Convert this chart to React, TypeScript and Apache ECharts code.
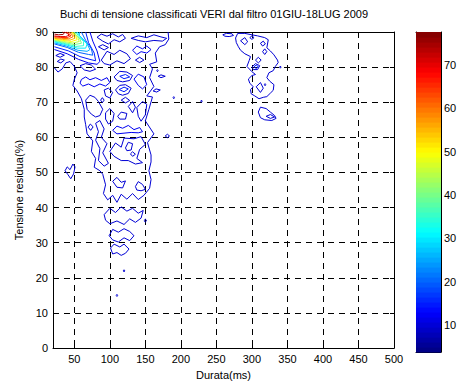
import React, { useEffect, useRef } from "react";
import * as echarts from "echarts";

const TITLE = "Buchi di tensione classificati VERI dal filtro 01GIU-18LUG 2009";
const X_NAME = "Durata(ms)";
const Y_NAME = "Tensione residua(%)";
const X_MIN = 20;
const X_MAX = 500;
const Y_MIN = 0;
const Y_MAX = 90;
const X_TICKS = [50, 100, 150, 200, 250, 300, 350, 400, 450, 500];
const CB_TICKS = [10, 20, 30, 40, 50, 60, 70];
const CB_MIN = 3.8;
const CB_MAX = 77.6;

// ---- contour lines: [durata ms, tensione %] ----
const peak75 = [[22, 89.4], [28, 89.2], [34, 89.3], [36, 89.7], [33, 90]];
const peak70 = [[22, 88.9], [30, 88.7], [38, 88.7], [43, 89.1], [40, 89.6], [36, 90]];
const peak65 = [[22, 88.7], [31, 88.45], [40, 88.4], [45, 88.85], [43, 89.5], [39, 90]];
const peak60 = [[22, 88.4], [32, 88.2], [42, 88.1], [48, 88.6], [46, 89.4], [42, 90]];
const peak55 = [[22, 88.2], [33, 87.9], [44, 87.7], [51, 88.2], [49, 89.1], [45, 90]];
const peak50 = [[22, 88], [34, 87.6], [46, 87.3], [54, 87.8], [52, 88.8], [47, 90]];
const peak45 = [[22, 87.8], [35, 87.3], [48, 86.85], [57, 87.3], [55, 88.4], [50, 89.6], [49, 90]];
const peak40 = [[22, 87.6], [36, 87], [50, 86.4], [60, 86.8], [58, 88], [52, 89.3], [50, 90]];
const peak35 = [[22, 87.4], [37, 86.7], [52, 85.9], [63, 86.1], [63, 87.3], [56, 88.8], [52, 90]];
const peak30 = [[22, 87.2], [38, 86.4], [54, 85.4], [66, 85.4], [68, 86.6], [60, 88.2], [54, 90]];
const peak25 = [[22, 86.9], [39, 86], [55, 84.8], [68, 84.5], [72, 85], [67, 87], [57, 89], [57, 90]];
const peak20 = [[22, 86.6], [40, 85.6], [56, 84.2], [70, 83.6], [76, 83.4], [74, 85.2], [66, 87.6], [60, 90]];
const peak15 = [[22, 85.8], [42, 84.6], [58, 83], [72, 82.2], [80, 81.8], [78, 84], [70, 87], [66, 90]];
const peak12 = [[22, 85], [40, 83.8], [56, 82.2], [70, 81.2], [82, 80.8], [86, 81.6], [82, 84.6], [76, 87.4], [72, 90]];

const mainBody = [
  [22, 79.8], [27, 78.6], [33, 79.5], [38, 81.2], [44, 81.6], [50, 80.2], [54, 78.4], [50, 76.5], [48, 74.8],
  [54, 73.2], [60, 71], [64, 68], [64, 65.8], [66, 63.6], [68, 61], [76, 59], [74, 56], [80, 54], [78, 51.5],
  [86, 50.5], [90, 49.5], [94, 46.5], [91, 44], [97, 42.2], [104, 43.5], [110, 41.5], [116, 43.8], [124, 42.4],
  [132, 44], [140, 42.3], [148, 43.5], [156, 45.5], [158, 48], [155, 50.5], [158, 53], [158, 55], [153, 58.5],
  [162, 61], [150, 64.7], [155, 68], [160, 71.5], [152, 71.8], [162, 74.5], [156, 77], [160, 79.5], [156, 80.8],
  [166, 81.5], [164, 84], [170, 85.8], [178, 86.4], [183, 88], [182, 90],
];
const band38 = [[92, 38], [100, 39.8], [108, 38.6], [116, 40.2], [124, 39], [132, 39.8], [140, 38.4], [147, 39.2], [144, 37], [136, 35.8], [128, 36.8], [120, 35.2], [110, 36.2], [100, 35.4], [94, 36.4], [92, 38]];
const band32 = [[99, 32], [104, 33.8], [112, 33], [120, 34], [128, 33.2], [134, 32], [128, 30.6], [120, 31.4], [112, 30.2], [104, 30.8], [99, 32]];
const band28 = [[101, 28.5], [106, 29.6], [114, 28.8], [120, 29.6], [127, 28.2], [122, 27], [116, 26.4], [110, 27.2], [104, 26.8], [101, 28.5]];
const leftBlob = [[37, 50.5], [40, 51.6], [44, 50.8], [48, 52.4], [51, 51.6], [49, 49.6], [45, 48.2], [41, 49.4], [37, 50.5]];
const isl1 = [[66, 70.6], [72, 72], [79, 71.4], [84, 70.2], [90, 68], [86, 66.2], [80, 65.8], [74, 66.6], [68, 68], [66, 70.6]];
const isl2 = [[69.5, 62.9], [72.5, 63.8], [76.5, 63], [73, 62], [69.5, 62.9]];
const isl3 = [[87, 70.6], [89.5, 71.3], [92, 70.6], [89.5, 69.9], [87, 70.6]];
const isl4 = [[108, 73.5], [114, 74.8], [122, 75], [130, 74], [126, 72.5], [118, 72], [112, 72.4], [108, 73.5]];
const isl4in = [[113, 73.6], [120, 74.3], [126, 73.8], [120, 73], [113, 73.6]];
const isl5 = [[106, 77.2], [114, 78.8], [124, 78.6], [132, 77.6], [128, 76.2], [118, 75.8], [110, 76.2], [106, 77.2]];
const isl5in = [[114, 77.4], [122, 77.9], [128, 77.2], [120, 76.7], [114, 77.4]];
const isl6 = [[111, 66], [116, 67.2], [124, 66.8], [122, 65.2], [114, 65.2], [111, 66]];
const isl7 = [[88, 82], [96, 84.5], [106, 83.6], [114, 84.8], [124, 83.8], [129, 82.4], [120, 81], [110, 81.8], [100, 80.6], [92, 81], [88, 82]];
const isl8 = [[122, 57], [126, 58.6], [132, 58.2], [130, 56.4], [124, 56.2], [122, 57]];
const isl9 = [[129, 55.3], [132, 55.9], [136, 55.2], [132, 54.6], [129, 55.3]];
const isl10 = [[100, 56], [108, 58.4], [116, 57.2], [120, 59.8], [134, 59.6], [144, 60.2], [150, 58], [142, 56.6], [138, 54], [146, 52.8], [136, 52.4], [126, 53.4], [116, 53.4], [106, 54.6], [100, 56]];
const isl11 = [[80, 64], [86, 64.8], [92, 62.4], [88, 60], [96, 58.2], [90, 55.6], [98, 52.6], [92, 51.8], [84, 53.4], [86, 56.8], [80, 59.2], [84, 61.6], [80, 64]];
const isl12 = [[138, 68.5], [146, 70.2], [152, 69.4], [150, 66.4], [144, 64.6], [140, 66], [138, 68.5]];
const topLoop = [[130, 88.2], [140, 88.9], [152, 88.4], [162, 89.2], [172, 88.6], [180, 88.2], [174, 87.4], [162, 87.6], [150, 87.2], [140, 87.6], [130, 88.2]];
const upLoop1 = [[82, 88.5], [88, 89.4], [96, 88.8], [104, 89.5], [112, 88.6], [118, 89.3], [122, 88.2], [114, 87.2], [106, 87.8], [98, 86.6], [90, 87.4], [82, 88.5]];
const upLoop2 = [[84, 85.8], [90, 86.4], [98, 85.6], [92, 84.9], [84, 85.8]];
const upLoop3 = [[132, 84.8], [138, 86], [146, 85.2], [152, 86], [158, 85], [152, 84], [144, 84.4], [138, 83.6], [132, 84.8]];
const upLoop4 = [[136, 82], [142, 82.8], [148, 82], [142, 81.3], [136, 82]];
const midLoop1 = [[60, 76.5], [66, 77.2], [72, 76.4], [80, 77], [88, 76.2], [96, 77], [100, 75.6], [94, 74.6], [86, 75.2], [78, 74.4], [70, 75.2], [62, 74.6], [58, 75.4], [60, 76.5]];
const midLoop2 = [[92, 73.5], [98, 74], [104, 72.8], [100, 71.2], [94, 71.8], [92, 73.5]];
const midLoop3 = [[134, 76.6], [140, 78], [148, 77.2], [152, 75], [146, 73.8], [140, 74.8], [134, 76.6]];
const midLoop4 = [[94, 67], [100, 68.2], [106, 66.8], [104, 64.6], [98, 63.8], [94, 65.2], [94, 67]];
const midLoop5 = [[126, 68.8], [132, 70.2], [136, 68.6], [132, 67], [126, 68.8]];
const midLoop6 = [[104, 62], [110, 63.2], [118, 62.6], [126, 63.4], [134, 62.2], [142, 62.8], [146, 61.6], [140, 61.3], [130, 61.4], [120, 61.2], [110, 61], [104, 62]];
const midLoop7 = [[116, 70.6], [122, 71.4], [128, 70.5], [122, 69.8], [116, 70.6]];
const lowLoop1 = [[104, 47.5], [110, 48.6], [116, 47.2], [122, 47.6], [118, 45.6], [110, 45.8], [104, 47.5]];
const lowLoop2 = [[136, 46], [140, 47.4], [146, 46.6], [150, 45.2], [144, 44.8], [138, 45], [136, 46]];
const peakLoopA = [[24, 83.3], [30, 83.9], [36, 83.4], [30, 82.8], [24, 83.3]];
const peakLoopB = [[26, 81.6], [31, 82.3], [36, 82], [31, 81.2], [26, 81.6]];
const peakLoopC = [[58, 80.4], [66, 81], [74, 80.6], [80, 79.4], [72, 78.8], [64, 79.2], [58, 80.4]];
const dot60 = [[178, 60.4], [181, 60.9], [184, 60.4], [181, 59.9], [178, 60.4]];
const dot71 = [[189, 71.3], [190, 71.6], [191, 71.3], [190, 71], [189, 71.3]];
const dot70 = [[228, 70.3], [229, 70.6], [230, 70.3], [229, 70], [228, 70.3]];
const dot79 = [[166, 79], [167, 79.3], [168, 79], [167, 78.7], [166, 79]];
const loop77 = [[168, 77.4], [172, 77.8], [178, 77.4], [172, 77], [168, 77.4]];
const loop73 = [[161, 73.2], [165, 73.8], [171, 73.5], [166, 72.9], [161, 73.2]];
const dot22 = [[119, 22], [120, 22.3], [121, 22], [120, 21.7], [119, 22]];
const dot15 = [[109, 15], [110, 15.3], [111, 15], [110, 14.7], [109, 15]];
const dot36 = [[148, 36.3], [150, 36.7], [152, 36.3], [150, 35.9], [148, 36.3]];

const right2Main = [
  [277, 88.3], [280, 89.6], [290, 89.6], [300, 89.2], [308, 88.9], [318, 88.4], [323, 87.8], [321, 85.5], [326, 84.6],
  [331, 83.5], [336, 82], [337, 81.3], [333, 80.2], [330, 79], [324, 78.4], [321, 77], [325, 76], [331, 75], [330, 73.4],
  [326, 72.6], [321, 71.6], [316, 71.4], [310, 71], [304, 71.8], [299, 72.4], [298, 73.6], [302, 74.4], [297, 75.4],
  [295, 76.6], [300, 77.6], [305, 77.9], [300, 78.7], [293, 80.2], [296, 81.8], [298, 83], [290, 83.8], [284, 84.8],
  [281, 85.8], [278, 87], [277, 88.3],
];
const right2A = [[315, 84.4], [318, 85.2], [321, 84.4], [318, 83.6], [315, 84.4]];
const right2B = [[305, 82], [309, 82.8], [313, 82], [309, 81.2], [305, 82]];
const right2C = [[300, 80], [305, 81], [311, 80.4], [308, 79.3], [302, 79.3], [300, 80]];
const right2Cin = [[303, 80.1], [306, 80.6], [309, 80.1], [306, 79.6], [303, 80.1]];
const right2Top = [[297, 88.4], [300, 88.9], [303, 88.4], [300, 87.9], [297, 88.4]];
const right2D = [[284, 87.5], [290, 88.4], [294, 87.2], [290, 86.4], [284, 87.5]];
const right2E = [[312, 86.8], [316, 87.4], [319, 86.6], [315, 86], [312, 86.8]];
const right2F = [[306, 74.4], [312, 75.6], [316, 74], [312, 72.8], [306, 74.4]];
const right2Dot = [[317.5, 75], [318.5, 75.3], [319.5, 75], [318.5, 74.7], [317.5, 75]];
const right2Low = [[309, 67.2], [312, 68.6], [320, 68.2], [326, 67.2], [332, 66.2], [334, 65.4], [328, 64.8], [318, 65], [312, 65.6], [309, 67.2]];
const right2LowIn = [[320, 66], [326, 66.5], [332, 65.8], [326, 65.4], [320, 66]];
const right2Small = [[259, 89.2], [264, 89.6], [272, 89.5], [274, 89], [268, 88.7], [262, 88.8], [259, 89.2]];
const right2Dot80 = [[339, 80], [340, 80.3], [341, 80], [340, 79.7], [339, 80]];

const CONTOURS: { level: number; pts: number[][] }[] = [
  { level: 10, pts: mainBody }, { level: 10, pts: band38 }, { level: 10, pts: band32 }, { level: 10, pts: band28 },
  { level: 10, pts: leftBlob }, { level: 10, pts: isl1 }, { level: 10, pts: isl2 }, { level: 10, pts: isl3 },
  { level: 10, pts: isl4 }, { level: 15, pts: isl4in }, { level: 10, pts: isl5 }, { level: 15, pts: isl5in },
  { level: 10, pts: isl6 }, { level: 10, pts: isl7 }, { level: 10, pts: isl8 }, { level: 10, pts: isl9 },
  { level: 10, pts: isl10 }, { level: 10, pts: isl11 }, { level: 10, pts: isl12 }, { level: 10, pts: topLoop },
  { level: 10, pts: upLoop1 }, { level: 10, pts: upLoop2 }, { level: 12, pts: upLoop3 }, { level: 10, pts: upLoop4 },
  { level: 12, pts: midLoop1 }, { level: 10, pts: midLoop2 }, { level: 12, pts: midLoop3 }, { level: 10, pts: midLoop4 },
  { level: 10, pts: midLoop5 }, { level: 12, pts: midLoop6 }, { level: 10, pts: midLoop7 },
  { level: 10, pts: lowLoop1 }, { level: 10, pts: lowLoop2 },
  { level: 10, pts: peakLoopA }, { level: 10, pts: peakLoopB }, { level: 10, pts: peakLoopC },
  { level: 10, pts: dot60 }, { level: 10, pts: dot71 }, { level: 10, pts: dot70 }, { level: 10, pts: dot79 },
  { level: 10, pts: loop77 }, { level: 10, pts: loop73 }, { level: 10, pts: dot22 }, { level: 10, pts: dot15 },
  { level: 10, pts: dot36 },
  { level: 10, pts: right2Main }, { level: 10, pts: right2A }, { level: 10, pts: right2B }, { level: 10, pts: right2C },
  { level: 15, pts: right2Cin }, { level: 10, pts: right2Top }, { level: 10, pts: right2D }, { level: 10, pts: right2E },
  { level: 10, pts: right2F }, { level: 10, pts: right2Dot }, { level: 10, pts: right2Low },
  { level: 10, pts: right2LowIn }, { level: 10, pts: right2Small }, { level: 10, pts: right2Dot80 },
  { level: 12, pts: peak12 },
  { level: 15, pts: peak15 }, { level: 20, pts: peak20 }, { level: 25, pts: peak25 }, { level: 30, pts: peak30 },
  { level: 35, pts: peak35 }, { level: 40, pts: peak40 }, { level: 45, pts: peak45 }, { level: 50, pts: peak50 },
  { level: 55, pts: peak55 }, { level: 60, pts: peak60 }, { level: 65, pts: peak65 }, { level: 70, pts: peak70 },
  { level: 75, pts: peak75 },
];

function jet(t: number): string {
  const c = (v: number) => Math.max(0, Math.min(1, v));
  const r = c(1.5 - Math.abs(4 * t - 3));
  const g = c(1.5 - Math.abs(4 * t - 2));
  const b = c(1.5 - Math.abs(4 * t - 1));
  return `rgb(${Math.round(r * 255)},${Math.round(g * 255)},${Math.round(b * 255)})`;
}
const levelColor = (lv: number) => jet((lv - CB_MIN) / (CB_MAX - CB_MIN));

const FONT = "'Liberation Sans', Arial, Helvetica, sans-serif";

function buildOption() {
  const nBands = 64;
  const span = CB_MAX - CB_MIN;
  const bands: number[][] = [];
  for (let i = 0; i < nBands; i++) {
    bands.push([0, CB_MIN + (i * span) / nBands, CB_MIN + ((i + 1) * span) / nBands, (i + 0.5) / nBands]);
  }
  const axisLine = { show: true, onZero: false, lineStyle: { color: "#000", width: 1 } };
  const gridDash = { show: true, lineStyle: { color: "#000", width: 1, type: [6, 5] as any } };
  const label = { color: "#000", fontSize: 11, fontFamily: FONT };

  const contourSeries = CONTOURS.map((c) => ({
    type: "line",
    xAxisIndex: 0,
    yAxisIndex: 0,
    data: c.pts,
    symbol: "none",
    showSymbol: false,
    silent: true,
    z: 3 + c.level / 100,
    lineStyle: { color: levelColor(c.level), width: 1 },
  }));

  return {
    animation: false,
    backgroundColor: "#fff",
    textStyle: { fontFamily: FONT },
    graphic: [
      {
        type: "text",
        x: 214,
        y: 14,
        style: { text: TITLE, fill: "#000", font: `11px ${FONT}`, textAlign: "center", textVerticalAlign: "middle" },
      },
    ],
    grid: [
      { left: 53, top: 32, width: 341, height: 320 },
      { left: 416, top: 32, width: 25, height: 320 },
    ],
    xAxis: [
      {
        gridIndex: 0, type: "value", position: "bottom", min: X_MIN, max: X_MAX,
        axisLine, axisTick: { show: true, inside: true, length: 4, customValues: X_TICKS, lineStyle: { color: "#000" } },
        axisLabel: { ...label, margin: 5, customValues: X_TICKS },
        splitLine: gridDash,
        name: X_NAME, nameLocation: "middle", nameGap: 19, nameTextStyle: { ...label },
      },
      {
        gridIndex: 0, type: "value", position: "top", min: X_MIN, max: X_MAX,
        axisLine, axisTick: { show: true, inside: true, length: 4, customValues: X_TICKS, lineStyle: { color: "#000" } },
        axisLabel: { show: false }, splitLine: { show: false },
      },
      {
        gridIndex: 1, type: "value", position: "bottom", min: 0, max: 1,
        axisLine, axisTick: { show: false }, axisLabel: { show: false }, splitLine: { show: false },
      },
      {
        gridIndex: 1, type: "value", position: "top", min: 0, max: 1,
        axisLine, axisTick: { show: false }, axisLabel: { show: false }, splitLine: { show: false },
      },
    ],
    yAxis: [
      {
        gridIndex: 0, type: "value", position: "left", min: Y_MIN, max: Y_MAX, interval: 10,
        axisLine, axisTick: { show: true, inside: true, length: 4, lineStyle: { color: "#000" } },
        axisLabel: { ...label, margin: 5 },
        splitLine: gridDash,
        name: Y_NAME, nameLocation: "middle", nameGap: 21, nameTextStyle: { ...label },
      },
      {
        gridIndex: 0, type: "value", position: "right", min: Y_MIN, max: Y_MAX, interval: 10,
        axisLine, axisTick: { show: true, inside: true, length: 4, lineStyle: { color: "#000" } },
        axisLabel: { show: false }, splitLine: { show: false },
      },
      {
        gridIndex: 1, type: "value", position: "right", min: CB_MIN, max: CB_MAX,
        axisLine, axisTick: { show: true, inside: true, length: 3, customValues: CB_TICKS, lineStyle: { color: "#000" } },
        axisLabel: { ...label, margin: 3, customValues: CB_TICKS },
        splitLine: { show: false },
      },
      {
        gridIndex: 1, type: "value", position: "left", min: CB_MIN, max: CB_MAX,
        axisLine, axisTick: { show: true, inside: true, length: 3, customValues: CB_TICKS, lineStyle: { color: "#000" } },
        axisLabel: { show: false }, splitLine: { show: false },
      },
    ],
    series: [
      ...contourSeries,
      {
        type: "custom",
        xAxisIndex: 2,
        yAxisIndex: 2,
        silent: true,
        data: bands,
        encode: { x: 0, y: [1, 2] },
        z: 1,
        renderItem: (_p: any, api: any) => {
          const p0 = api.coord([0, api.value(1)]);
          const p1 = api.coord([1, api.value(2)]);
          return {
            type: "rect",
            shape: { x: p0[0], y: p1[1], width: p1[0] - p0[0], height: p0[1] - p1[1] + 0.6 },
            style: { fill: jet(api.value(3)) },
          };
        },
      },
    ],
  };
}

export default function App() {
  const ref = useRef<HTMLDivElement>(null);
  useEffect(() => {
    document.body.style.margin = "0";
    const chart = echarts.init(ref.current as HTMLDivElement, null, { renderer: "svg" });
    chart.setOption(buildOption() as any);
    return () => chart.dispose();
  }, []);
  return (
    <div
      ref={ref}
      style={{ position: "fixed", left: 0, top: 0, width: 460, height: 385, background: "#fff" }}
    />
  );
}
